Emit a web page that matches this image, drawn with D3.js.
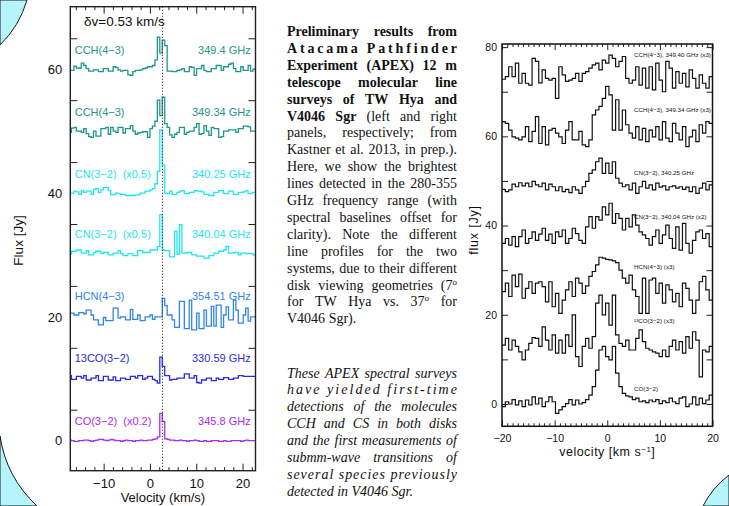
<!DOCTYPE html>
<html>
<head>
<meta charset="utf-8">
<script src="https://cdn.jsdelivr.net/npm/d3@7"></script>
<style>
  html, body { margin: 0; padding: 0; background: #fff; }
  svg { display: block; }
  .ax text { font-family: "Liberation Sans", Arial, sans-serif; fill: #111; }
  .ax path.domain { display: none; }
  .ax line { stroke: #222; }
</style>
</head>
<body>
<script>
// ---- left panel (TW Hya), channel 0.53 km/s, values relative to each baseline offset
const velStartL = -17.48, dvL = 0.53;
const namesL = ["CCH(4−3)", "CCH(4−3)", "CN(3−2)  (x0.5)", "CN(3−2)  (x0.5)", "HCN(4−3)", "13CO(3−2)", "CO(3−2)  (x0.2)"];
const freqsL = ["349.4 GHz", "349.34 GHz", "340.25 GHz", "340.04 GHz", "354.51 GHz", "330.59 GHz", "345.8 GHz"];
const offsetsL = [60, 50, 40, 30.3, 20.3, 10.2, 0];
const colorsL = ["#1e968c", "#1e968c", "#1ee6f2", "#1ee6f2", "#2f86ee", "#2b2be0", "#a82cf0"];
const cch1L = [-0.2,-0.2,0.5,0.2,0.2,1.0,0.6,0.1,-0.3,-0.3,
  -0.1,-0.1,-0.4,-0.4,0.1,0.1,-0.3,-0.3,0.4,0.3,
  -0.1,-0.3,-0.2,-0.2,-0.9,-1.0,-0.4,-0.2,-0.2,-0.1,
  0.1,0.2,0.4,0.4,0.6,1.5,5.2,2.6,4.7,3.8,
  -0.3,-0.3,-0.4,-0.4,-0.2,-0.1,0.1,-0.4,-0.4,0.4,
  0.3,-1.0,0.1,0.1,0.6,-0.2,-0.4,-0.4,0.1,0.1,
  0.6,0.6,-0.2,0.4,0.4,0.8,1.0,0.1,-0.4,-0.4,
  0.4,-0.2,-0.2,0.6,-0.3,0.0];
const cch2L = [-0.2,0.5,0.6,0.0,0.0,-0.2,0.4,-0.4,-0.9,-1.0,
  0.0,-0.8,-0.8,0.4,0.4,0.6,-0.5,0.6,0.0,-0.2,
  0.6,0.6,-0.3,0.4,0.4,0.9,0.0,-0.5,-0.3,-0.2,
  -0.1,-0.1,-1.0,0.4,0.8,1.6,5.0,2.5,5.5,1.2,
  0.6,-0.6,-1.0,-0.5,-0.2,0.6,0.6,-0.5,-0.2,0.0,
  0.0,0.6,1.2,-0.5,-0.4,0.9,0.0,-0.7,0.6,0.4,
  0.4,-1.0,-0.9,0.0,0.0,0.2,0.2,0.2,-0.2,0.4,
  0.4,0.8,0.8,0.7,0.0,0.0];
const cn1L = [0.0,0.0,0.3,0.2,-0.2,0.4,0.1,0.3,0.3,-0.2,
  0.6,0.7,0.1,0.5,0.9,0.9,0.4,-0.3,-0.2,0.0,
  -0.1,-0.2,-0.2,-0.4,-0.4,-0.4,-0.4,-0.3,-0.3,0.0,
  0.0,0.3,0.3,0.5,0.7,1.5,3.5,10.2,4.5,0.0,
  -0.1,0.3,-0.2,-0.2,0.1,0.3,0.4,-0.1,-0.1,0.1,
  0.1,0.4,0.3,0.3,0.2,-0.2,-0.2,-0.4,-0.4,0.1,
  0.1,0.4,0.4,-0.1,-0.1,0.3,0.3,-0.2,-0.2,0.1,
  0.1,0.2,0.4,-0.1,0.0,0.1];
const cn2L = [-0.2,0.3,0.3,0.5,0.5,0.0,0.0,0.4,-0.3,-0.3,
  0.1,0.3,0.3,-0.1,0.1,0.1,-0.3,-0.3,0.0,0.0,
  0.4,-0.1,-0.4,-0.4,-0.1,-0.1,-0.4,-0.4,0.4,0.4,
  0.1,0.1,0.1,0.5,0.5,0.5,1.1,6.2,0.5,0.4,
  0.4,-0.6,-0.6,3.5,-0.2,4.6,0.0,0.0,0.1,0.1,
  -0.3,-0.3,-0.5,-0.5,-0.5,-0.8,-0.8,-0.4,-0.4,0.0,
  0.0,0.3,0.3,0.5,1.1,0.0,0.0,0.1,0.1,-0.3,
  0.0,0.0,-0.1,-0.1,-0.1,-0.3];
const hcnL = [0.3,0.3,0.0,0.0,0.4,0.4,0.2,0.8,0.8,0.0,
  -0.8,-0.8,-1.6,-1.6,-0.4,-0.9,-0.9,-0.9,1.1,1.1,
  -0.5,-0.3,-0.3,-0.8,-0.8,0.9,-0.7,-0.7,0.0,-0.9,
  -0.9,-0.3,-0.3,0.0,-0.7,-0.3,-0.3,-0.3,2.7,1.5,
  0.0,0.0,-0.8,-2.0,-2.0,2.2,2.2,-2.2,-2.2,2.4,
  -2.4,-2.4,0.3,-2.2,-2.2,0.8,-1.8,-1.8,1.4,-1.8,
  1.6,1.6,-2.0,0.0,1.3,-0.8,-0.8,2.4,0.8,-1.3,
  -1.3,0.0,1.1,-1.0,-0.3,-0.3];
const co13L = [0.3,-0.3,-0.3,0.2,0.2,-0.1,0.3,-0.4,-0.4,-0.1,
  -0.1,0.3,-0.5,-0.5,0.2,0.2,-0.4,-0.4,0.1,-0.5,
  -0.5,-0.1,-0.1,-0.3,-0.3,0.2,0.2,-0.1,0.3,0.3,
  -0.3,-0.1,0.2,0.2,-0.3,-0.5,-0.9,3.3,1.8,0.3,
  0.3,-0.4,-0.3,-0.3,-0.1,-0.1,-0.1,0.6,0.6,-0.1,
  -0.1,0.3,-0.8,-0.9,-0.4,-0.4,-0.1,-0.1,-0.5,-0.5,
  -0.1,-0.3,-0.3,0.0,0.0,-0.3,-0.3,-0.1,-0.1,0.3,
  0.3,0.2,0.2,0.2,0.2,0.2];
const coL = [0.1,0.0,-0.1,-0.1,0.0,0.0,0.1,0.1,0.0,-0.1,
  0.0,0.1,0.2,0.2,0.1,0.0,0.1,0.2,0.1,0.0,
  0.0,-0.1,0.0,0.1,0.0,0.0,-0.1,0.0,0.0,0.1,
  0.0,0.0,0.1,0.1,0.2,0.3,0.6,4.4,3.1,0.3,
  0.2,0.1,0.1,0.0,0.0,0.1,0.0,0.0,-0.1,0.0,
  0.0,0.1,0.0,-0.1,-0.1,0.0,-0.1,-0.1,0.0,0.0,
  0.0,-0.1,-0.1,0.0,-0.1,-0.1,0.0,0.0,0.0,0.0,
  -0.1,0.0,0.1,0.0,0.0,0.0];
const seriesL = [cch1L, cch2L, cn1L, cn2L, hcnL, co13L, coL];
const vSysL = 2.7;

// ---- right panel (V4046 Sgr), channel 0.635 km/s
const velStartR = -20, dvR = 0.635;
const namesR = ["CCH(4−3), 349.40 GHz (x3)", "CCH(4−3), 349.34 GHz (x3)", "CN(3−2), 340.25 GHz",
  "CN(3−2), 340.04 GHz (x2)", "HCN(4−3) (x3)", "¹³CO(3−2) (x3)", "CO(3−2)"];
const offsetsR = [72, 58, 48, 36, 24, 12, 0];
const cch1R = [0.8,1.4,3.6,1.4,4.4,-0.1,2.1,-0.1,-0.5,5.5,
  4.8,0.0,2.9,1.0,0.6,1.0,-3.5,3.6,1.8,0.3,
  0.6,1.0,2.1,0.3,2.1,2.5,3.3,4.0,4.4,2.9,
  5.1,4.4,6.2,5.5,3.6,4.8,5.9,1.0,-0.1,0.6,
  3.6,-0.5,3.3,-1.2,3.6,-1.6,4.4,0.6,-2.0,4.8,
  3.3,-1.2,2.5,-0.1,2.1,-0.9,2.9,1.0,-1.2,1.8,
  -0.1,-1.2,1.4];
const cch2R = [5.3,4.9,3.4,1.9,1.6,1.2,1.9,4.2,0.8,3.1,
  6.4,0.4,4.2,0.1,3.4,3.8,2.7,1.9,0.4,3.4,
  5.3,1.2,1.2,3.1,0.1,-0.3,1.2,6.8,7.9,8.7,
  10.5,13.2,11.3,3.4,10.2,3.4,7.9,4.6,2.7,1.6,
  4.2,1.2,3.8,0.8,3.4,1.9,4.2,1.2,5.3,1.6,
  0.8,4.9,2.7,1.2,4.2,-0.3,1.9,3.4,0.8,4.6,
  2.7,5.3,4.9];
const cn1R = [0.1,-0.4,0.0,1.3,0.7,1.6,0.9,1.5,0.7,1.9,
  1.1,0.7,1.5,0.0,1.3,0.7,-0.2,0.7,-0.4,0.1,
  -0.6,0.7,0.0,-0.8,0.7,1.9,3.7,4.5,6.3,7.1,
  3.7,6.0,3.7,6.3,2.6,1.5,0.7,1.1,0.0,1.5,
  -0.8,0.7,1.9,0.4,1.1,0.0,1.5,0.6,0.9,0.0,
  0.7,0.9,0.4,0.7,0.1,0.6,-0.4,0.7,-0.8,0.4,
  1.5,0.0,1.1];
const cn2R = [0.0,1.1,-0.4,1.5,-0.7,1.5,3.0,0.0,1.1,2.6,
  0.7,2.1,3.4,0.7,2.1,0.0,2.6,1.5,3.0,0.0,
  1.1,3.4,2.2,0.7,0.0,3.7,6.0,3.4,6.0,5.2,
  8.2,6.4,9.0,4.5,6.7,5.6,3.0,5.6,3.7,6.4,
  4.1,2.6,1.9,1.1,-0.4,1.5,3.0,0.0,1.9,4.1,
  1.1,-1.1,3.7,-1.5,4.5,0.0,-2.2,0.7,2.6,3.0,
  1.1,2.2,-0.7];
const hcnR = [1.2,3.1,0.1,4.9,2.3,5.1,-0.3,1.9,3.4,0.8,
  3.1,3.4,2.3,-1.1,3.4,-2.2,0.8,-3.7,-0.7,1.6,
  3.4,0.1,4.2,3.1,0.8,2.5,4.6,5.7,7.2,8.9,
  8.7,8.4,8.3,8.1,7.7,6.0,4.2,3.1,4.9,1.6,
  0.1,-3.7,4.2,-3.7,3.8,4.2,0.8,3.1,-1.4,2.7,
  1.6,-1.1,0.8,-2.2,3.1,1.9,-0.7,-3.7,-0.7,3.4,
  4.6,1.6,-0.7];
const co13R = [1.2,2.7,0.1,2.3,0.9,-0.3,-2.1,0.1,1.6,2.9,
  2.7,0.9,5.3,2.3,0.1,3.5,-0.6,2.3,-0.6,3.5,
  0.9,8.0,-1.4,-3.6,0.9,2.7,0.5,3.1,10.6,12.4,
  8.0,10.6,5.7,12.4,3.5,1.6,0.9,2.3,0.1,0.1,
  2.7,4.6,2.0,0.5,0.1,-0.3,-0.6,-1.4,0.1,-1.4,
  0.9,2.3,0.1,2.0,-0.6,3.1,0.5,4.2,2.3,-5.9,
  0.1,-0.3,0.9];
const coR = [-0.6,0.5,0.0,1.0,-0.2,0.7,-0.6,0.9,-0.2,1.6,
  0.0,1.3,-0.6,0.5,1.6,0.5,-2.1,-1.3,-0.6,0.1,
  1.0,-0.2,0.9,0.0,0.3,1.0,2.0,3.9,7.6,12.1,
  12.9,10.6,9.9,12.9,6.9,3.9,2.4,1.8,1.6,1.0,
  1.3,0.5,0.7,0.3,0.9,0.5,1.0,0.1,0.7,0.3,
  1.3,0.5,0.1,1.3,1.6,-0.6,0.0,1.6,-0.2,1.3,
  0.1,0.9,2.0];
const seriesR = [cch1R, cch2R, cn1R, cn2R, hcnR, co13R, coR];

// ---- caption text ("*" bold word, "~" letter-spread line, "$" last line, "^" superscript)
const para1 = [
  "*Preliminary *results *from",
  "~*Atacama Pathfinder",
  "*Experiment *(APEX) *12 *m",
  "*telescope *molecular *line",
  "*surveys *of *TW *Hya *and",
  "*V4046 *Sgr (left and right",
  "panels, respectively; from",
  "Kastner et al. 2013, in prep.).",
  "Here, we show the brightest",
  "lines detected in the 280-355",
  "GHz frequency range (with",
  "spectral baselines offset for",
  "clarity). Note the different",
  "line profiles for the two",
  "systems, due to their different",
  "disk viewing geometries (7^o",
  "for TW Hya vs. 37^o for",
  "V4046 Sgr).$"
];
const para2 = [
  "These APEX spectral surveys",
  "~have yielded first-time",
  "detections of the molecules",
  "CCH and CS in both disks",
  "and the first measurements of",
  "submm-wave transitions of",
  "~several species previously",
  "detected in V4046 Sgr.$"
];

const svg = d3.select("body").append("svg").attr("width", 729).attr("height", 506);

// poster bubbles behind everything
const bg = svg.append("g").attr("fill", "#b5f4fa").attr("stroke", "#1a1a1a").attr("stroke-width", 1);
bg.append("path").attr("d", "M27,0 A102,102 0 0 1 0,45 L0,0 Z");
bg.append("path").attr("d", "M0,436 A120,120 0 0 0 37,506 L0,506 Z");
bg.append("path").attr("d", "M703,506 A90,90 0 0 1 729,475 L729,506 Z");

function stepPoints(vals, v0, dv) {
  const pts = vals.map((v, i) => [v0 + i * dv, v]);
  pts.push([v0 + vals.length * dv, vals[vals.length - 1]]);
  return pts;
}

function axisG(axis, tx, ty, fs) {
  const g = svg.append("g").attr("class", "ax").attr("transform", `translate(${tx},${ty})`).call(axis);
  g.selectAll("text").attr("font-size", fs || 13);
  return g;
}

// ================= left panel =================
const L = { x0: 70.3, x1: 255.5, y0: 6.7, y1: 470.7 };
const xL = d3.scaleLinear().domain([-17.2, 22.8]).range([L.x0, L.x1]);
const yL = d3.scaleLinear().domain([-4.85, 70.1]).range([L.y1, L.y0]);

svg.append("clipPath").attr("id", "clipL").append("rect")
  .attr("x", L.x0).attr("y", L.y0).attr("width", L.x1 - L.x0).attr("height", L.y1 - L.y0);

const gL = svg.append("g").attr("clip-path", "url(#clipL)");
seriesL.forEach((vals, k) => {
  const line = d3.line()
    .x(d => xL(d[0]))
    .y(d => yL(d[1] + offsetsL[k]))
    .curve(d3.curveStepAfter);
  gL.append("path").attr("d", line(stepPoints(vals, velStartL, dvL)))
    .attr("fill", "none").attr("stroke", colorsL[k]).attr("stroke-width", 1.3);
});

gL.append("line").attr("x1", xL(vSysL)).attr("x2", xL(vSysL)).attr("y1", L.y0).attr("y2", L.y1)
  .attr("stroke", "#333").attr("stroke-width", 1).attr("stroke-dasharray", "1.2,1.8");

const labL = svg.append("g").attr("font-family", '"Liberation Sans", Arial, sans-serif').attr("font-size", 11);
namesL.forEach((n, k) => {
  const y = yL(offsetsL[k] + 3.1);
  labL.append("text").attr("x", 74.7).attr("y", y).attr("dy", "0.35em")
    .attr("xml:space", "preserve").style("white-space", "pre").attr("fill", colorsL[k]).text(n);
  labL.append("text").attr("x", 250.7).attr("y", y).attr("dy", "0.35em").attr("text-anchor", "end")
    .attr("fill", colorsL[k]).text(freqsL[k]);
});

const minorL = d3.range(-16, 23, 2).filter(v => v % 10 !== 0);
axisG(d3.axisBottom(xL).tickValues(minorL).tickSize(-3.5).tickFormat(""), 0, L.y1);
axisG(d3.axisBottom(xL).tickValues([-10, 0, 10, 20]).tickSize(-7).tickPadding(8.3), 0, L.y1);
axisG(d3.axisTop(xL).tickValues(minorL).tickSize(-3.5).tickFormat(""), 0, L.y0);
axisG(d3.axisTop(xL).tickValues([-10, 0, 10, 20]).tickSize(-7).tickFormat(""), 0, L.y0);
axisG(d3.axisLeft(yL).tickValues(d3.range(5, 70, 10)).tickSize(-7).tickFormat(""), L.x0, 0);
axisG(d3.axisRight(yL).tickValues(d3.range(5, 70, 10)).tickSize(-7).tickFormat(""), L.x1, 0);
axisG(d3.axisLeft(yL).tickValues([0, 20, 40, 60]).tickSize(0).tickPadding(8), L.x0, 0);

svg.append("rect").attr("x", L.x0).attr("y", L.y0).attr("width", L.x1 - L.x0).attr("height", L.y1 - L.y0)
  .attr("fill", "none").attr("stroke", "#222").attr("stroke-width", 1.4);

const tL = svg.append("g").attr("font-family", '"Liberation Sans", Arial, sans-serif').attr("fill", "#111");
tL.append("text").attr("x", 84).attr("y", 25.5).attr("font-size", 13.5).text("δv=0.53 km/s");
tL.append("text").attr("x", (L.x0 + L.x1) / 2).attr("y", 502.3).attr("text-anchor", "middle")
  .attr("font-size", 13).text("Velocity (km/s)");
tL.append("text").attr("transform", "translate(23,240.5) rotate(-90)").attr("text-anchor", "middle")
  .attr("font-size", 13.5).text("Flux [Jy]");

// ================= right panel =================
const R = { x0: 502, x1: 712.5, y0: 44, y1: 426.3 };
const xR = d3.scaleLinear().domain([-20, 20]).range([R.x0, R.x1]);
const yR = d3.scaleLinear().domain([-5, 80.7]).range([R.y1, R.y0]);

svg.append("clipPath").attr("id", "clipR").append("rect")
  .attr("x", R.x0).attr("y", R.y0).attr("width", R.x1 - R.x0).attr("height", R.y1 - R.y0);

const gR = svg.append("g").attr("clip-path", "url(#clipR)");
seriesR.forEach((vals, k) => {
  const line = d3.line()
    .x(d => xR(d[0]))
    .y(d => yR(d[1] + offsetsR[k]))
    .curve(d3.curveStepAfter);
  gR.append("path").attr("d", line(stepPoints(vals, velStartR, dvR)))
    .attr("fill", "none").attr("stroke", "#111").attr("stroke-width", 1.2);
});

const labYR = [55, 110, 172.7, 217, 267, 320.7, 389];
const labR = svg.append("g").attr("font-family", '"Liberation Sans", Arial, sans-serif').attr("font-size", 6.2).attr("fill", "#111");
namesR.forEach((n, k) => {
  labR.append("text").attr("x", xR(5.1)).attr("y", labYR[k]).attr("dy", "0.35em").text(n);
});

const minorR = d3.range(-19, 20, 1).filter(v => v % 10 !== 0);
axisG(d3.axisBottom(xR).tickValues(minorR).tickSize(-3).tickFormat(""), 0, R.y1);
axisG(d3.axisBottom(xR).tickValues([-20, -10, 0, 10, 20]).tickSize(-6).tickPadding(8.5), 0, R.y1, 10.5);
axisG(d3.axisTop(xR).tickValues(minorR).tickSize(-3).tickFormat(""), 0, R.y0);
axisG(d3.axisTop(xR).tickValues([-20, -10, 0, 10, 20]).tickSize(-6).tickFormat(""), 0, R.y0);
axisG(d3.axisLeft(yR).tickValues(d3.range(0, 81, 10)).tickSize(-6).tickFormat(""), R.x0, 0);
axisG(d3.axisRight(yR).tickValues(d3.range(0, 81, 10)).tickSize(-6).tickFormat(""), R.x1, 0);
axisG(d3.axisLeft(yR).tickValues([0, 20, 40, 60, 80]).tickSize(0).tickPadding(5), R.x0, 0, 10.5);

svg.append("rect").attr("x", R.x0).attr("y", R.y0).attr("width", R.x1 - R.x0).attr("height", R.y1 - R.y0)
  .attr("fill", "none").attr("stroke", "#111").attr("stroke-width", 1.5);

const tR = svg.append("g").attr("font-family", '"Liberation Sans", Arial, sans-serif').attr("fill", "#111");
const vt = tR.append("text").attr("x", (R.x0 + R.x1) / 2).attr("y", 456).attr("text-anchor", "middle")
  .attr("font-size", 12.5).style("letter-spacing", "0.5px");
vt.append("tspan").text("velocity [km s");
vt.append("tspan").attr("baseline-shift", "super").attr("font-size", 8).text("−1");
vt.append("tspan").text("]");
tR.append("text").attr("transform", "translate(478,230) rotate(-90)").attr("text-anchor", "middle")
  .attr("font-size", 12.5).style("letter-spacing", "0.8px").text("flux [Jy]");

// ================= caption =================
const textX = 287, textW = 170, lineH = 16.9;

function wordNode(g, word, y) {
  const bold = word.startsWith("*");
  if (bold) word = word.slice(1);
  const t = g.append("text").attr("y", y).style("font-weight", bold ? "bold" : "normal");
  const parts = word.split("^");
  t.append("tspan").text(parts[0]);
  if (parts[1]) t.append("tspan").attr("baseline-shift", "super").attr("font-size", 9).text(parts[1]);
  return t;
}

function drawPara(lines, y0, italic) {
  const g = svg.append("g").attr("font-family", '"Liberation Serif", "Times New Roman", serif')
    .attr("font-size", 14).attr("fill", "#111").style("font-style", italic ? "italic" : "normal");
  lines.forEach((ln, k) => {
    const y = y0 + k * lineH;
    let s = ln, spread = false, last = false;
    if (s.startsWith("~")) { spread = true; s = s.slice(1); }
    if (s.endsWith("$")) { last = true; s = s.slice(0, -1); }
    if (spread) {
      const bold = s.startsWith("*");
      g.append("text").attr("x", textX).attr("y", y).attr("textLength", textW).attr("lengthAdjust", "spacing")
        .style("font-weight", bold ? "bold" : "normal").text(s.replace(/\*/g, ""));
      return;
    }
    const words = s.split(" ").map(w => wordNode(g, w, y));
    const widths = words.map(t => t.node().getComputedTextLength());
    const gap = last ? 3.5 : (textW - d3.sum(widths)) / (words.length - 1);
    let x = textX;
    words.forEach((t, i) => { t.attr("x", x); x += widths[i] + gap; });
  });
}

drawPara(para1, 36, false);
drawPara(para2, 377.5, true);
</script>
</body>
</html>
